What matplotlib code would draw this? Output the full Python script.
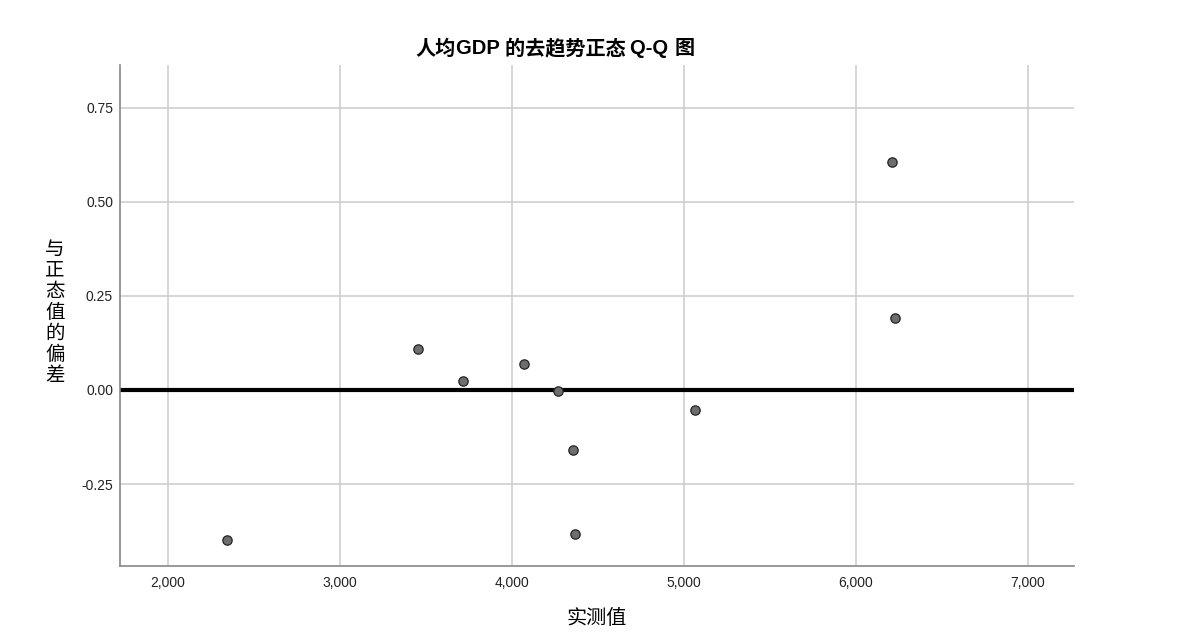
import matplotlib
matplotlib.use("Agg")
import matplotlib.pyplot as plt
from matplotlib.ticker import FuncFormatter
from matplotlib.offsetbox import TextArea, HPacker, AnnotationBbox

plt.rcParams['font.family'] = ['Liberation Sans', 'Noto Sans CJK SC', 'DejaVu Sans']

observed = [2344, 3454, 3714, 4072, 4270, 4353, 4367, 5068, 6212, 6229]
deviation = [-0.398, 0.110, 0.024, 0.070, -0.002, -0.159, -0.384, -0.052, 0.605, 0.191]
x_ticks = [2000, 3000, 4000, 5000, 6000, 7000]
y_ticks = [-0.25, 0.00, 0.25, 0.50, 0.75]
title_parts = [("人均", False), ("GDP ", True), ("的去趋势正态 ", False), ("Q-Q ", True), ("图", False)]
xlabel = "实测值"
ylabel = "与正态值的偏差"

fig = plt.figure(figsize=(11.98, 6.36), dpi=100)
ax = fig.add_axes([120/1198, 1 - 566/636, (1074-120)/1198, (566-65)/636])

ax.set_xlim(1721, 7270)
ax.set_ylim(-0.468, 0.864)
ax.set_xticks(x_ticks)
ax.set_yticks(y_ticks)
ax.xaxis.set_major_formatter(FuncFormatter(lambda v, p: f"{int(v):,}"))
ax.yaxis.set_major_formatter(FuncFormatter(lambda v, p: f"{v:.2f}"))
ax.grid(True, color='#cccccc', linewidth=1.1)
ax.set_axisbelow(True)
ax.tick_params(length=0, labelsize=10, colors='#222222')
ax.tick_params(axis='x', pad=7)
ax.tick_params(axis='y', pad=5)
for s in ['top', 'right']:
    ax.spines[s].set_visible(False)
for s in ['left', 'bottom']:
    ax.spines[s].set_color('#888888')
    ax.spines[s].set_linewidth(1.2)

ax.axhline(0, color='black', linewidth=3, zorder=2)
ax.scatter(observed, deviation, s=45, facecolor='#6e6e6e', edgecolor='#222222',
           linewidth=0.9, zorder=3)

areas = []
for txt, bold in title_parts:
    if bold:
        props = dict(fontsize=14.5, fontweight='bold', family=['Liberation Sans'], color='black')
    else:
        props = dict(fontsize=14.5, fontweight='bold', family=['Noto Sans CJK SC'], color='black')
    areas.append(TextArea(txt, textprops=props))
pack = HPacker(children=areas, align='baseline', pad=0, sep=0)
ab = AnnotationBbox(pack, (555/1198, 1 - 48/636), xycoords='figure fraction',
                    frameon=False, box_alignment=(0.5, 0.5), pad=0)
fig.add_artist(ab)

fig.text(597/1198, 1 - 619/636, xlabel, ha='center', va='center', fontsize=14.5,
         family=['Noto Sans CJK SC'])
fig.text(55/1198, 1 - 312/636, "\n".join(ylabel), ha='center', va='center',
         fontsize=14, linespacing=1.0, family=['Noto Sans CJK SC'])

fig.savefig("out.png", dpi=100)
